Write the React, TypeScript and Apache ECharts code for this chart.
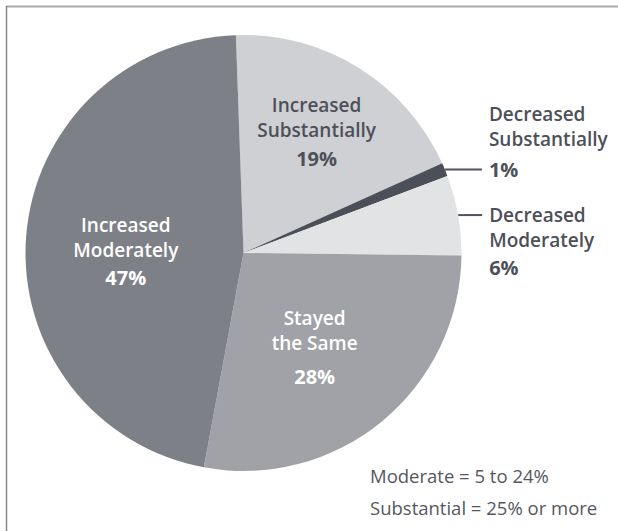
import { useEffect, useRef } from 'react';
import * as echarts from 'echarts';

// Slice names (line breaks are where the label wraps), shares in percent, clockwise from the top.
const categories = [
  'Increased\nSubstantially',
  'Decreased\nSubstantially',
  'Decreased\nModerately',
  'Stayed\nthe Same',
  'Increased\nModerately',
];
const shares = [19, 1, 6, 28, 47];
const footnotes = ['Moderate = 5 to 24%', 'Substantial = 25% or more'];

// Styling per slice.
const sliceColors = ['#cfd0d3', '#4b4f57', '#e2e3e4', '#a0a2a8', '#7e8087'];
const textColors = ['#4d5059', '#4d5059', '#4d5059', '#ffffff', '#ffffff'];
const outsideSlices = [false, true, true, false, false];
const leaderLengths = [0, 37, 24, 0, 0];
const pctLineHeights = [33, 36, 29, 43, 31];
// Outside labels: padding shifts which text line sits on the leader line.
const labelPads = [0, [0, 0, 50, 0], [54, 0, 0, 0], 0, 0];
// Inside labels: small nudges from the default mid-radius spot.
const insideShift = [
  { dx: 14, dy: -24 },
  {},
  {},
  { dx: 0, dy: 12 },
  { dx: -6, dy: 8 },
];

const FONT = '"Open Sans", "Noto Sans", sans-serif';

export default function App() {
  const ref = useRef<HTMLDivElement>(null);

  useEffect(() => {
    document.body.style.margin = '0';
    const chart = echarts.init(ref.current!, null, { renderer: 'svg' });

    const data = categories.map((name, i) => ({
      name,
      value: shares[i],
      itemStyle: { color: sliceColors[i] },
      label: {
        position: outsideSlices[i] ? 'outside' : 'inside',
        color: textColors[i],
        padding: labelPads[i],
        rich: { p: { lineHeight: pctLineHeights[i] } },
      },
      labelLine: {
        show: outsideSlices[i],
        length: 0,
        length2: leaderLengths[i],
      },
    }));

    chart.setOption({
      animation: false,
      backgroundColor: '#ffffff',
      graphic: [
        {
          type: 'line',
          silent: true,
          shape: { x1: 6, y1: 6.5, x2: 618, y2: 6.5 },
          style: { stroke: '#a7a9ac', lineWidth: 2 },
        },
        {
          type: 'line',
          silent: true,
          shape: { x1: 6.5, y1: 6, x2: 6.5, y2: 531 },
          style: { stroke: '#86888c', lineWidth: 1.5 },
        },
        ...footnotes.map((t, i) => ({
          type: 'text',
          silent: true,
          x: 370,
          y: 475 + i * 32,
          style: {
            text: t,
            fontFamily: FONT,
            fontSize: 18.5,
            fill: '#55585f',
            align: 'left',
            verticalAlign: 'middle',
          },
        })),
      ],
      series: [
        {
          type: 'pie',
          silent: true,
          center: [243.5, 253],
          radius: 218,
          startAngle: 92,
          clockwise: true,
          avoidLabelOverlap: false,
          label: {
            show: true,
            fontFamily: FONT,
            overflow: 'none',
            distanceToLabelLine: 7,
            textBorderWidth: 0,
            formatter: (p: any) =>
              String(p.name)
                .split('\n')
                .map((t: string) => `{n|${t}}`)
                .join('\n') + `\n{p|${p.value}%}`,
            rich: {
              n: { fontFamily: FONT, fontSize: 19, fontWeight: 600, lineHeight: 25 },
              p: { fontFamily: FONT, fontSize: 20, fontWeight: 700 },
            },
          },
          labelLine: {
            lineStyle: { color: '#50545c', width: 2 },
          },
          labelLayout: (p: any) => insideShift[p.dataIndex],
          data,
        },
      ],
    });

    return () => chart.dispose();
  }, []);

  return (
    <div
      ref={ref}
      style={{ position: 'fixed', left: 0, top: 0, width: 618, height: 531, background: '#fff' }}
    />
  );
}
